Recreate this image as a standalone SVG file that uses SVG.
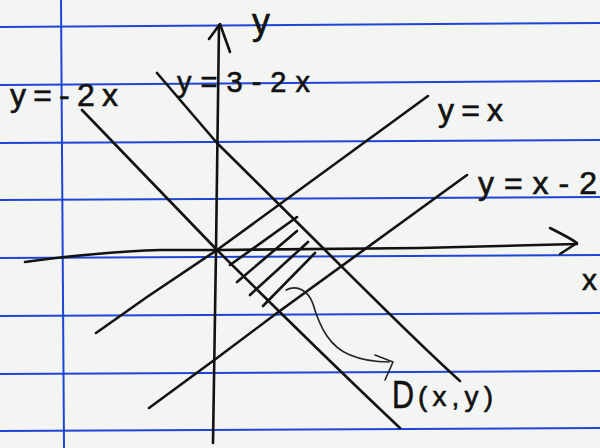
<svg xmlns="http://www.w3.org/2000/svg" width="600" height="448" viewBox="0 0 600 448">
  <defs>
    <style>
      .rule { stroke: #1f45d6; stroke-width: 2; fill: none; }
      .ink { stroke: #121212; stroke-width: 2.6; fill: none; stroke-linecap: round; stroke-linejoin: round; }
      .thin { stroke: #222; stroke-width: 1.6; fill: none; stroke-linecap: round; stroke-linejoin: round; }
      .lbl { font-family: "Liberation Sans", "DejaVu Sans", sans-serif; fill: #121212; stroke: #121212; stroke-width: 0.6; }
    </style>
  </defs>

  <!-- notebook paper -->
  <g id="paper">
    <rect x="0" y="0" width="600" height="448" fill="#f3f5f2"/>
    <line class="rule" x1="0" y1="27" x2="600" y2="23"/>
    <line class="rule" x1="0" y1="85" x2="600" y2="81"/>
    <line class="rule" x1="0" y1="143" x2="600" y2="140"/>
    <line class="rule" x1="0" y1="200" x2="600" y2="197"/>
    <line class="rule" x1="0" y1="258" x2="600" y2="255"/>
    <line class="rule" x1="0" y1="316" x2="600" y2="313"/>
    <line class="rule" x1="0" y1="374" x2="600" y2="371"/>
    <line class="rule" x1="0" y1="431" x2="600" y2="428"/>
    <line class="rule" x1="61" y1="0" x2="64" y2="448"/>
  </g>

  <!-- axes -->
  <g id="axes">
    <path class="ink" d="M213,443 L216,250 L219,25"/>
    <path class="ink" d="M209,39 L220,24 L230,52"/>
    <path class="ink" d="M25,262 C60,257 120,251 160,250 L217,250 L420,248 L577,244"/>
    <path class="ink" d="M550,228 C562,234 570,238 577,243 L560,254"/>
  </g>

  <!-- plotted lines -->
  <g id="lines">
    <path id="line-neg2x" class="ink" d="M82,110 L217,250 Q330,362 400,428"/>
    <path id="line-3-2x" class="ink" d="M157,73 L217,143 L320,245 Q420,345 460,381"/>
    <polyline id="line-x" class="ink" points="96,333 147,297 217,250 428,96"/>
    <polyline id="line-x-2" class="ink" points="149,408 217,358 277,313 467,175"/>
  </g>

  <!-- hatching of region D -->
  <g id="hatch">
    <line class="ink" x1="230" y1="265" x2="297" y2="217"/>
    <line class="ink" x1="237" y1="282" x2="297" y2="231"/>
    <line class="ink" x1="250" y1="295" x2="308" y2="242"/>
    <line class="ink" x1="263" y1="306" x2="315" y2="253"/>
  </g>

  <!-- connector: curved arrow to label -->
  <g id="connectors">
    <path class="thin" d="M286,290 C298,284 309,292 313,304 C320,328 330,347 350,355 C362,360 375,362 389,362"/>
    <path class="thin" d="M375,355 L393,362 L385,380"/>
  </g>

  <!-- labels -->
  <g id="label-y-axis"><text class="lbl" x="252" y="34" font-size="36">y</text></g>
  <g id="label-x-axis"><text class="lbl" x="582" y="290" font-size="30">x</text></g>
  <g id="label-neg2x"><text class="lbl" x="10" y="106" font-size="32" textLength="108" lengthAdjust="spacing">y=-2x</text></g>
  <g id="label-3-2x"><text class="lbl" x="177" y="92" font-size="29" textLength="133" lengthAdjust="spacing">y=3-2x</text></g>
  <g id="label-x"><text class="lbl" x="438" y="121" font-size="32" textLength="65" lengthAdjust="spacing">y=x</text></g>
  <g id="label-x-2"><text class="lbl" x="478" y="194" font-size="32" textLength="119" lengthAdjust="spacing">y=x-2</text></g>
  <g id="label-D">
    <text class="lbl" x="392" y="408" font-size="38" textLength="22" lengthAdjust="spacingAndGlyphs">D</text>
    <text class="lbl" x="418" y="406" font-size="28" textLength="75" lengthAdjust="spacing">(x,y)</text>
  </g>
</svg>
